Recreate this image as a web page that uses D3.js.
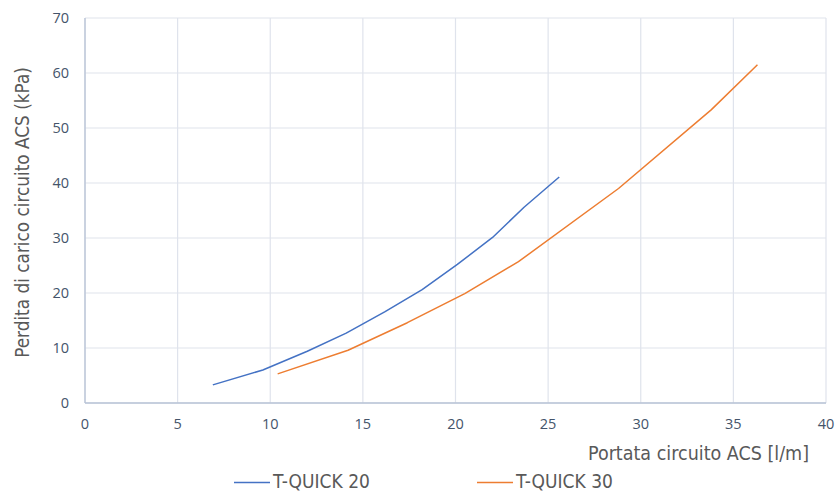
<!DOCTYPE html>
<html><head><meta charset="utf-8">
<script src="https://cdn.jsdelivr.net/npm/d3@7/dist/d3.min.js"></script>
<style>body{margin:0;background:#fff}</style>
</head><body><svg id="c" width="838" height="492"></svg>
<script>
const seriesNames = ["T-QUICK 20", "T-QUICK 30"];
const quick20Flow = [6.9, 9.6, 12.0, 14.1, 16.2, 18.2, 20.1, 22.0, 23.7, 25.6];
const quick20Loss = [3.3, 6.0, 9.4, 12.7, 16.6, 20.6, 25.2, 30.1, 35.6, 41.1];
const quick30Flow = [10.4, 14.2, 17.4, 20.5, 23.4, 28.8, 33.8, 36.3];
const quick30Loss = [5.3, 9.6, 14.6, 19.9, 25.7, 39.0, 53.3, 61.5];
const xTicks = [0, 5, 10, 15, 20, 25, 30, 35, 40];
const yTicks = [0, 10, 20, 30, 40, 50, 60, 70];
const colors = ["#4472c4", "#ed7d31"];

const svg = d3.select("#c");
const x = d3.scaleLinear().domain([0, 40]).range([85, 826]);
const y = d3.scaleLinear().domain([0, 70]).range([403, 18]);

// grid
svg.append("g").selectAll("line").data(xTicks).join("line")
  .attr("x1", d => x(d)).attr("x2", d => x(d)).attr("y1", y(0)).attr("y2", y(70))
  .attr("stroke", "#dfe3ec").attr("stroke-width", 1.2);
svg.append("g").selectAll("line").data(yTicks).join("line")
  .attr("x1", x(0)).attr("x2", x(40)).attr("y1", d => y(d)).attr("y2", d => y(d))
  .attr("stroke", "#dfe3ec").attr("stroke-width", 1.2);
// axis lines
svg.append("line").attr("x1", x(0)).attr("x2", x(0)).attr("y1", y(0)).attr("y2", y(70))
  .attr("stroke", "#b8c3d6").attr("stroke-width", 1.3);
svg.append("line").attr("x1", x(0)).attr("x2", x(40)).attr("y1", y(0)).attr("y2", y(0))
  .attr("stroke", "#b8c3d6").attr("stroke-width", 1.3);

const font = "'Open Sans', sans-serif";
svg.append("g").selectAll("text").data(xTicks).join("text")
  .attr("x", d => x(d)).attr("y", 429).attr("text-anchor", "middle")
  .attr("font-family", font).attr("font-size", 14.5).attr("fill", "#44546a").text(d => d);
svg.append("g").selectAll("text").data(yTicks).join("text")
  .attr("x", 69).attr("y", d => y(d) + 5).attr("text-anchor", "end")
  .attr("font-family", font).attr("font-size", 14.5).attr("fill", "#44546a").text(d => d);

const tfont = "'DejaVu Sans Condensed', 'DejaVu Sans', sans-serif";
svg.append("text").attr("x", 809).attr("y", 460).attr("text-anchor", "end")
  .attr("font-family", tfont).attr("font-size", 19.5).attr("fill", "#595959")
  .text("Portata circuito ACS [l/m]");
svg.append("text").attr("transform", "translate(29,212.5) rotate(-90)").attr("text-anchor", "middle")
  .attr("font-family", tfont).attr("font-size", 18.8).attr("fill", "#595959")
  .text("Perdita di carico circuito ACS (kPa)");

const line = d3.line().x(d => x(d[0])).y(d => y(d[1]));
const data = [d3.zip(quick20Flow, quick20Loss), d3.zip(quick30Flow, quick30Loss)];
svg.append("g").selectAll("path").data(data).join("path")
  .attr("d", line).attr("fill", "none").attr("stroke", (d, i) => colors[i])
  .attr("stroke-width", 1.5).attr("stroke-linejoin", "round");

// legend
const lg = svg.append("g").selectAll("g").data(seriesNames).join("g")
  .attr("transform", (d, i) => `translate(${234 + i * 243},482.5)`);
lg.append("line").attr("x1", 0).attr("x2", 36).attr("stroke", (d, i) => colors[i]).attr("stroke-width", 1.5);
lg.append("text").attr("x", 39).attr("y", 5.5).attr("font-family", tfont).attr("font-size", 19)
  .attr("fill", "#595959").text(d => d);
</script></body></html>
